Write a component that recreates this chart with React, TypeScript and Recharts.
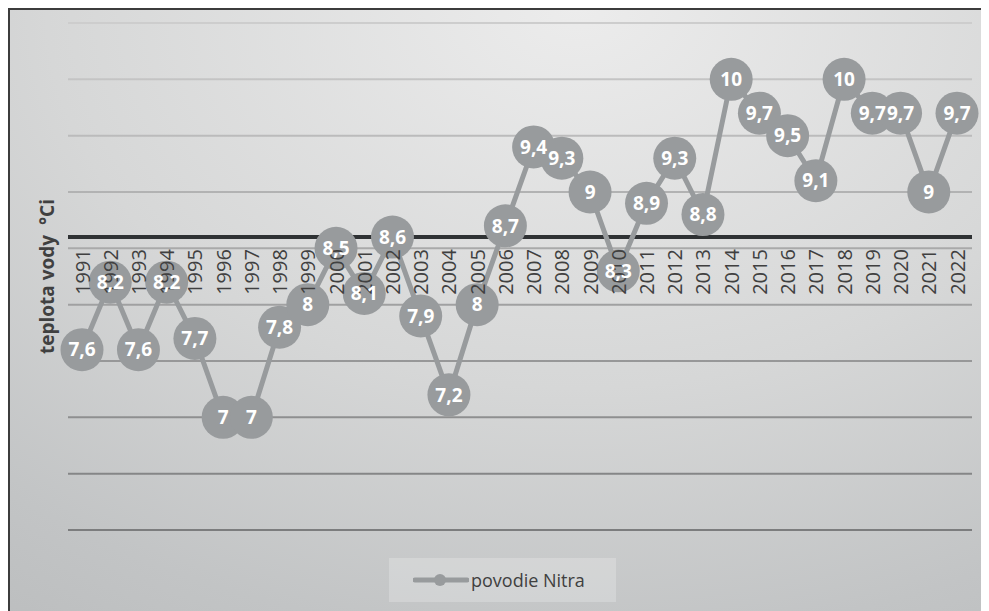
import { LineChart, Line, XAxis, YAxis, CartesianGrid, ReferenceLine, LabelList, Legend } from 'recharts';

const years = [
  '1991', '1992', '1993', '1994', '1995', '1996', '1997', '1998', '1999', '2000', '2001',
  '2002', '2003', '2004', '2005', '2006', '2007', '2008', '2009', '2010', '2011', '2012',
  '2013', '2014', '2015', '2016', '2017', '2018', '2019', '2020', '2021', '2022',
];
const nitraTemps = [
  7.6, 8.2, 7.6, 8.2, 7.7, 7, 7, 7.8, 8, 8.5, 8.1,
  8.6, 7.9, 7.2, 8, 8.7, 9.4, 9.3, 9, 8.3, 8.9, 9.3,
  8.8, 10, 9.7, 9.5, 9.1, 10, 9.7, 9.7, 9, 9.7,
];
const yTicks = [6, 6.5, 7, 7.5, 8, 8.5, 9, 9.5, 10, 10.5];
const axisCross = 8.6;
const seriesName = 'povodie Nitra';

const data = years.map((year, i) => ({ year, temp: nitraTemps[i] }));

const W = 981;
const H = 603;
const margin = { top: 15, right: 17, bottom: 51, left: 0 };
const xAxisH = 30;
const yMin = yTicks[0];
const yMax = yTicks[yTicks.length - 1];
const plotH = H - margin.top - margin.bottom - xAxisH;
const crossY = margin.top + ((yMax - axisCross) / (yMax - yMin)) * plotH;

const GRAY = '#989b9d';
const TEXT = '#404040';
const FONT = '"Open Sans", sans-serif';

function YearTick(props: any) {
  const { x, payload } = props;
  const y = crossY + 12;
  return (
    <text
      transform={`translate(${x},${y}) rotate(-90)`}
      textAnchor="end"
      dominantBaseline="central"
      fontSize={20}
      fill={TEXT}
      fontFamily={FONT}
    >
      {payload.value}
    </text>
  );
}

function NoTick() {
  return <g />;
}

function BigDot(props: any) {
  const { cx, cy, index } = props;
  return <circle key={`dot-${index}`} cx={cx} cy={cy} r={21.5} fill={GRAY} />;
}

function LegendBox() {
  return (
    <div
      style={{
        display: 'flex',
        alignItems: 'center',
        width: 227,
        height: 44,
        paddingLeft: 24,
        boxSizing: 'border-box',
        background: 'rgba(255,255,255,0.22)',
        fontFamily: FONT,
        fontSize: 18,
        color: TEXT,
      }}
    >
      <svg width={56} height={14} style={{ marginRight: 2 }}>
        <line x1={2} y1={7} x2={54} y2={7} stroke={GRAY} strokeWidth={5} strokeLinecap="round" />
        <circle cx={27} cy={7} r={6} fill={GRAY} />
      </svg>
      <span>{seriesName}</span>
    </div>
  );
}

export default function App() {
  return (
    <div
      style={{
        width: W,
        height: H,
        position: 'relative',
        fontFamily: FONT,
        background: 'radial-gradient(ellipse 120% 140% at 58% 0%, #ececec 0%, #d6d7d7 45%, #c2c4c5 75%, #b6b8b9 100%)',
        boxShadow: 'inset 2px 2px 0 #3c3c3c',
      }}
    >
      <LineChart width={W} height={H} data={data} margin={margin}>
        <defs>
          <linearGradient id="gridGrad" gradientUnits="userSpaceOnUse" x1={0} y1={margin.top} x2={0} y2={H - margin.bottom - xAxisH}>
            <stop offset="0%" stopColor="#cdcdcd" />
            <stop offset="100%" stopColor="#7c7d7e" />
          </linearGradient>
        </defs>
        <CartesianGrid vertical={false} stroke="url(#gridGrad)" strokeWidth={2} />
        <ReferenceLine y={axisCross} stroke="#2f3234" strokeWidth={4} />
        <Line
          dataKey="temp"
          name={seriesName}
          stroke={GRAY}
          strokeWidth={5}
          dot={BigDot}
          activeDot={false}
          isAnimationActive={false}
        />
        <XAxis
          dataKey="year"
          interval={0}
          height={xAxisH}
          axisLine={false}
          tickLine={false}
          tick={YearTick}
          padding={{ left: 14, right: 15 }}
        />
        <YAxis
          domain={[yMin, yMax]}
          ticks={yTicks}
          width={60}
          tick={NoTick}
          axisLine={false}
          tickLine={false}
          label={{
            value: 'teplota vody \u00a0°Ci',
            angle: -90,
            position: 'center',
            dx: 9,
            fill: TEXT,
            fontSize: 19,
            fontWeight: 700,
            fontFamily: FONT,
          }}
        />
        <Line
          dataKey="temp"
          stroke="none"
          dot={false}
          activeDot={false}
          legendType="none"
          isAnimationActive={false}
        >
          <LabelList
            dataKey="temp"
            position="center"
            formatter={(v: any) => String(v).replace('.', ',')}
            fill="#ffffff"
            fontSize={19}
            fontWeight={700}
            fontFamily={FONT}
          />
        </Line>
        <Legend
          verticalAlign="middle"
          align="center"
          content={LegendBox}
          wrapperStyle={{ position: 'absolute', left: 381, top: 550, width: 227, height: 44 }}
        />
      </LineChart>
    </div>
  );
}
